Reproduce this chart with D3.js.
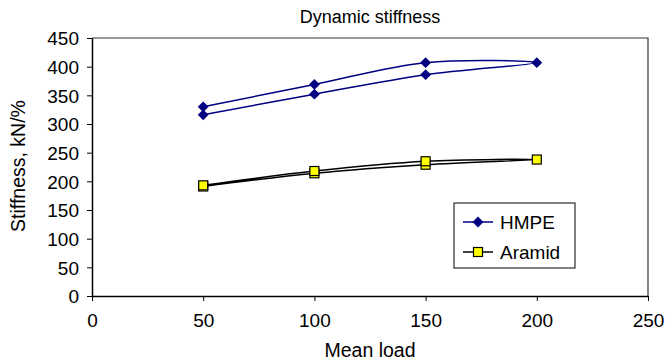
<!DOCTYPE html>
<html>
<head>
<meta charset="utf-8">
<script src="https://cdn.jsdelivr.net/npm/d3@7"></script>
<style>
  body { margin: 0; background: #fff; }
  text { font-family: "Liberation Sans", Arial, sans-serif; }
</style>
</head>
<body>
<div id="chart"></div>
<script>
// mean load values, loading then unloading
var loads = [50, 100, 150, 200, 150, 100, 50];
// stiffness per point, kN/%
var hmpe = [316, 352, 386, 407, 407, 369, 330];
var aramid = [191, 214, 229, 238, 235, 218, 193];
var xTicks = [0, 50, 100, 150, 200, 250];
var yTicks = [0, 50, 100, 150, 200, 250, 300, 350, 400, 450];
var seriesNames = ["HMPE", "Aramid"];

var margin = { top: 38, right: 20, bottom: 66, left: 92 },
    width = 648 - margin.left,
    height = 296 - margin.top;

var svg = d3.select("#chart")
    .append("svg")
    .attr("width", 668)
    .attr("height", 362)
    .append("g")
    .attr("transform", "translate(" + margin.left + "," + margin.top + ")");

var x = d3.scaleLinear().domain([0, 250]).range([0, width]);
var y = d3.scaleLinear().domain([0, 450]).range([height, 0]);

// plot area frame (top and right)
svg.append("path")
    .attr("d", "M0,0H" + width + "V" + height)
    .attr("fill", "none")
    .attr("stroke", "#333")
    .attr("stroke-width", 1.2);

var xaxis = svg.append("g")
    .attr("transform", "translate(0," + height + ")")
    .call(d3.axisBottom(x).tickValues(xTicks).tickSize(5).tickSizeOuter(0));
var yaxis = svg.append("g")
    .call(d3.axisLeft(y).tickValues(yTicks).tickSize(5).tickSizeOuter(0));

[xaxis, yaxis].forEach(function(ax) {
    ax.attr("font-size", null).attr("font-family", null);
    ax.select(".domain").attr("stroke", "#000").attr("stroke-width", 1.5);
    ax.selectAll(".tick line").attr("stroke", "#000");
    ax.selectAll("text")
        .style("font-size", "19px")
        .attr("fill", "#000");
});
xaxis.selectAll("text").attr("y", 8).attr("dy", "1.2em");
yaxis.selectAll("text").attr("x", -13).attr("dy", "0.36em");

var line = d3.line()
    .x(function(d) { return x(d[0]); })
    .y(function(d) { return y(d[1]); })
    .curve(d3.curveCatmullRom.alpha(0.5));

var hmpeData = loads.map(function(l, i) { return [l, hmpe[i]]; });
var aramidData = loads.map(function(l, i) { return [l, aramid[i]]; });

svg.append("path").datum(hmpeData)
    .attr("d", line).attr("fill", "none")
    .attr("stroke", "#000080").attr("stroke-width", 1.5);
svg.append("path").datum(aramidData)
    .attr("d", line).attr("fill", "none")
    .attr("stroke", "#000").attr("stroke-width", 1.5);

var diamond = d3.symbol().type(d3.symbolDiamond2).size(75);

svg.selectAll(".hm").data(hmpeData).enter()
    .append("path")
    .attr("d", diamond)
    .attr("transform", function(d) { return "translate(" + x(d[0]) + "," + y(d[1]) + ")"; })
    .attr("fill", "#000080");

svg.selectAll(".ar").data(aramidData).enter()
    .append("rect")
    .attr("x", function(d) { return x(d[0]) - 4.5; })
    .attr("y", function(d) { return y(d[1]) - 4.5; })
    .attr("width", 9).attr("height", 9)
    .attr("fill", "#ffff00")
    .attr("stroke", "#000").attr("stroke-width", 1.2);

// legend
var legend = svg.append("g").attr("transform", "translate(" + (454 - margin.left) + "," + (203 - margin.top) + ")");
legend.append("rect")
    .attr("width", 121).attr("height", 65)
    .attr("fill", "#fff").attr("stroke", "#000").attr("stroke-width", 1);
seriesNames.forEach(function(name, i) {
    var ly = 19 + i * 30;
    var g = legend.append("g").attr("transform", "translate(0," + ly + ")");
    g.append("line").attr("x1", 9).attr("x2", 39).attr("y1", 0).attr("y2", 0)
        .attr("stroke", i === 0 ? "#000080" : "#000").attr("stroke-width", 1.5);
    if (i === 0) {
        g.append("path").attr("d", diamond).attr("transform", "translate(24,0)").attr("fill", "#000080");
    } else {
        g.append("rect").attr("x", 19.5).attr("y", -4.5).attr("width", 9).attr("height", 9)
            .attr("fill", "#ffff00").attr("stroke", "#000").attr("stroke-width", 1.2);
    }
    g.append("text").attr("x", 46).attr("y", 0).attr("dy", "0.36em")
        .style("font-size", "19px").text(name);
});

// titles
svg.append("text")
    .attr("x", width / 2).attr("y", 23 - margin.top)
    .attr("text-anchor", "middle")
    .style("font-size", "18px")
    .text("Dynamic stiffness");

svg.append("text")
    .attr("x", width / 2).attr("y", 357 - margin.top)
    .attr("text-anchor", "middle")
    .style("font-size", "19.5px")
    .text("Mean load");

svg.append("text")
    .attr("transform", "rotate(-90)")
    .attr("x", -height / 2 + 1).attr("y", 25 - margin.left)
    .attr("text-anchor", "middle")
    .style("font-size", "19.5px")
    .text("Stiffness, kN/%");
</script>
</body>
</html>
